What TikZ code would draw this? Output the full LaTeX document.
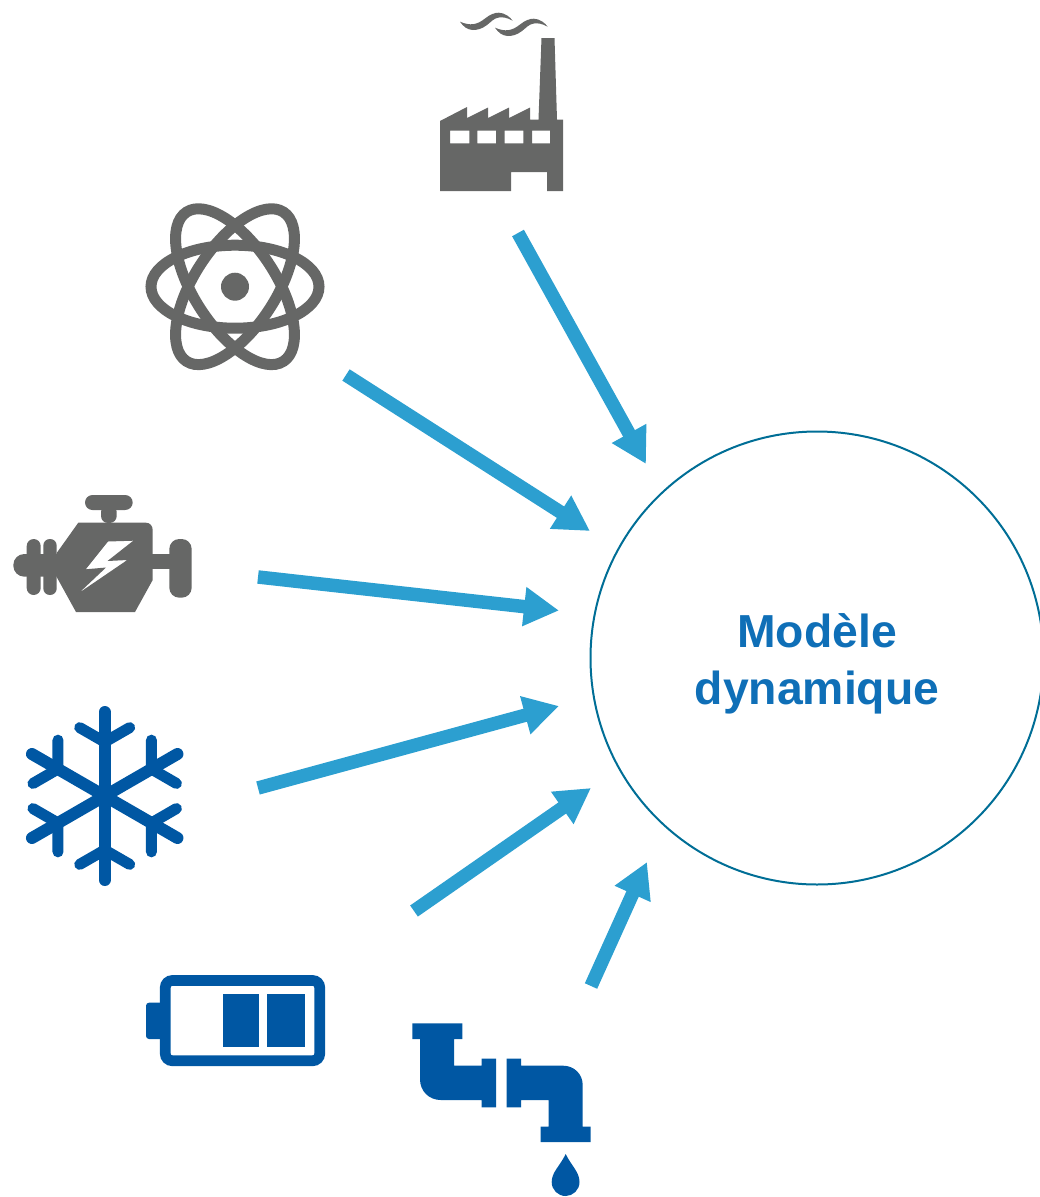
\documentclass[tikz,border=0pt]{standalone}
\usepackage{fontspec}
\setmainfont{Liberation Sans}
\usetikzlibrary{arrows.meta}
\definecolor{icongray}{HTML}{666766}
\definecolor{iconblue}{HTML}{0057A3}
\definecolor{flowblue}{HTML}{2C9FD0}
\definecolor{ringteal}{HTML}{006E96}
\definecolor{labelblue}{HTML}{0F6FB7}
\tikzset{
  flow/.style={draw=flowblue,line width=13.5pt,-{Triangle[length=35pt,width=37pt,fill=flowblue]}},
  ring/.style={circle,draw=ringteal,line width=2pt,minimum size=453pt,inner sep=0pt},
  caption/.style={align=center,text=labelblue,inner sep=0pt,font=\fontsize{46.3}{56.7}\selectfont\bfseries},
  gfill/.style={fill=icongray,draw=none},
  bfill/.style={fill=iconblue,draw=none},
  orbit/.style={draw=icongray,line width=11pt},
  flake/.style={draw=iconblue,line width=12pt,line cap=round},
  flakebranch/.style={draw=iconblue,line width=11pt,line cap=round}
}
\begin{document}
\begin{tikzpicture}[x=1pt,y=-1pt]
\useasboundingbox (0,0) rectangle (1040,1197);
\clip (0,0) rectangle (1040,1197);

% model circle
\node[ring] (model) at (817,658) {};
\node[caption] (modeltext) at (817,663.5) {Modèle\\dynamique};

% factory
\fill[gfill,even odd rule] (440,121) -- (467,107) -- (467,118) -- (488,107.5) -- (488,118) -- (509,107.5) -- (509,118) -- (530,107.5) -- (530,119.5) -- (538.5,119.5) -- (541.5,38) -- (554.5,38) -- (557,119.5) -- (563,119.5) -- (563,191) -- (547,191) -- (547,172) -- (511,172) -- (511,191) -- (440,191) -- cycle
 (450,130.7) rectangle (469.3,143.3)
 (477.3,130.7) rectangle (496,143.3)
 (504.7,130.7) rectangle (523.3,143.3)
 (532,130.7) rectangle (550,143.3);
\foreach \dx/\dy in {0/0,35/6}{
  \fill[gfill,shift={(\dx,\dy)}] (460,21.7) .. controls (470,26) and (477,25) .. (485,18.5) .. controls (490,14.5) and (495,12.5) .. (499,12.7) .. controls (505,13) and (510,17) .. (512.7,20.7) .. controls (507,17.5) and (503,17) .. (499,17.5) .. controls (494,18) and (491,22) .. (487,25) .. controls (482,29) and (477,30) .. (473,30) .. controls (467,30) and (463,26) .. (460,21.7) -- cycle;
}

% atom
\begin{scope}[shift={(235,286.7)}]
  \draw[orbit] (0,0) ellipse [x radius=84pt,y radius=41.5pt];
  \foreach \a in {57,123}{
    \draw[orbit,rotate=\a] (0,0) ellipse [x radius=89pt,y radius=41pt];
  }
  \fill[gfill] (0,0) circle [radius=14pt];
\end{scope}

% engine
\fill[gfill,rounded corners=7.5pt] (85,495) rectangle (132.7,510);
\fill[gfill,rounded corners=7pt] (101,505) rectangle (116.7,523);
\fill[gfill,even odd rule] (78.3,522.7) -- (146,522.7) .. controls (150,522.7) and (152.7,526) .. (152.7,530) -- (152.7,580) -- (135,612) -- (76,612) -- (56.7,577) -- (56.7,553) -- cycle
 (108,541.5) -- (85.7,569.3) -- (106,567.5) -- (79.3,592.7) -- (127.3,560) -- (107.5,561) -- (133.3,540.7) -- cycle;
\fill[gfill] (150,554) rectangle (172,569.3);
\fill[gfill,rounded corners=10pt] (169.3,539) rectangle (191.7,597.7);
\fill[gfill,rounded corners=11pt] (13.3,554) rectangle (70,576.7);
\fill[gfill,rounded corners=7pt] (26.7,539) rectangle (40.7,595);
\fill[gfill,rounded corners=6.5pt] (43.3,539) rectangle (56.7,595);

% snowflake
\begin{scope}[shift={(104.7,796)}]
  \foreach \a in {0,60,...,300}{
    \begin{scope}[rotate=\a]
      \draw[flake] (0,0) -- (0,-84);
      \draw[flakebranch] (0,-54) -- (25,-68.4);
      \draw[flakebranch] (0,-54) -- (-25,-68.4);
    \end{scope}
  }
\end{scope}

% battery
\draw[draw=iconblue,line width=10.7pt,rounded corners=7pt] (165.3,980.5) rectangle (319.7,1060.7);
\fill[bfill,rounded corners=3pt] (146,1002.7) rectangle (166,1039);
\fill[bfill] (222.7,994.3) rectangle (259.3,1047.3);
\fill[bfill] (267.3,994.3) rectangle (305,1047.3);

% tap
\fill[bfill] (412.3,1023.3) -- (462.3,1023.3) -- (462.3,1039) -- (454,1039) -- (454,1065.7) -- (481.7,1065.7) -- (481.7,1058.7) -- (496,1058.7) -- (496,1107.3) -- (481.7,1107.3) -- (481.7,1100) -- (440.7,1100) .. controls (429,1100) and (420,1091) .. (420,1079.3) -- (420,1039) -- (412.3,1039) -- cycle;
\fill[bfill] (506.7,1058.7) -- (521,1058.7) -- (521,1065.7) -- (563.3,1065.7) .. controls (574,1065.7) and (582.7,1074) .. (582.7,1085) -- (582.7,1126.7) -- (590.7,1126.7) -- (590.7,1142) -- (540.7,1142) -- (540.7,1126.7) -- (548.7,1126.7) -- (548.7,1100) -- (521,1100) -- (521,1107.3) -- (506.7,1107.3) -- cycle;
\fill[bfill] (565.7,1154) .. controls (560,1166) and (551.7,1172) .. (551.7,1182) .. controls (551.7,1190) and (558,1196) .. (565.7,1196) .. controls (573,1196) and (579.5,1190) .. (579.5,1182) .. controls (579.5,1172) and (571.5,1166) .. (565.7,1154) -- cycle;

% connector ends
\coordinate (f1) at (518,233);   \coordinate (t1) at (646,464);
\coordinate (f2) at (346,375);   \coordinate (t2) at (590,531);
\coordinate (f3) at (258,577);   \coordinate (t3) at (559,610.5);
\coordinate (f4) at (258,788);   \coordinate (t4) at (559,706);
\coordinate (f5) at (414,911);   \coordinate (t5) at (591,788);
\coordinate (f6) at (591,986);   \coordinate (t6) at (647,862);
\foreach \i in {1,...,6}{
  \draw[flow] (f\i) -- (t\i);
}
\end{tikzpicture}
\end{document}
